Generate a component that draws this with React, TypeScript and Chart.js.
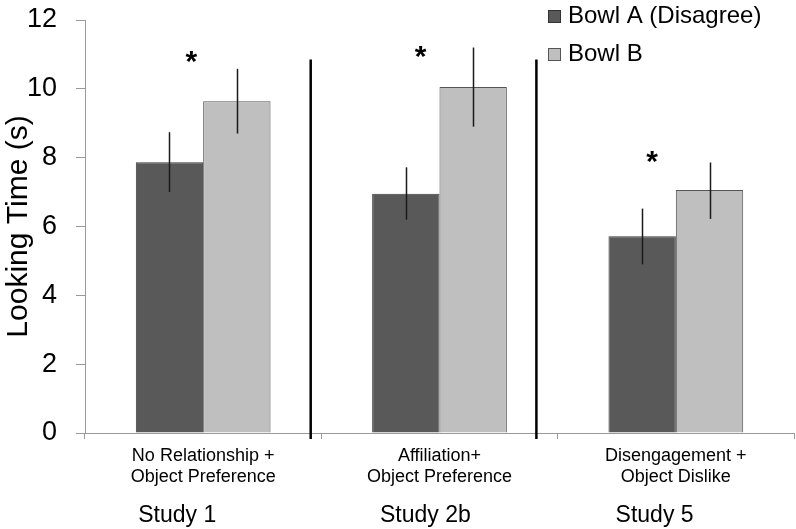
import React, { useEffect, useRef } from "react";
import { Chart, registerables } from "chart.js";

Chart.register(...registerables);

const categories = [
  ["No Relationship +", "Object Preference"],
  ["Affiliation+", "Object Preference"],
  ["Disengagement +", "Object Dislike"],
];
const studyLabels = ["Study 1", "Study 2b", "Study 5"];
const seriesNames = ["Bowl A (Disagree)", "Bowl B"];
const bowlA = [7.87, 6.95, 5.72];
const bowlB = [9.64, 10.05, 7.06];
const bowlAErrLow = [7.0, 6.2, 4.9];
const bowlAErrHigh = [8.74, 7.72, 6.52];
const bowlBErrLow = [8.7, 8.9, 6.22];
const bowlBErrHigh = [10.58, 11.2, 7.86];
const yTicks = [0, 2, 4, 6, 8, 10, 12];
const asteriskValues = [10.9, 11.05, 8.0];
const asteriskIndex = [-0.05, 0.92, 1.9];
const studyIndex = [-0.11, 0.94, 1.91];
const dividerIndex = [0.455, 1.41];
const dividerTop = 10.85;

const colorA = "#595959";
const colorB = "#bfbfbf";
const FONT = "'Liberation Sans', Arial, sans-serif";

export default function App() {
  const ref = useRef<HTMLCanvasElement | null>(null);

  useEffect(() => {
    document.body.style.margin = "0";
    const canvas = ref.current;
    if (!canvas) return;

    const overlay = {
      id: "overlay",
      afterDatasetsDraw(chart: any) {
        const ctx = chart.ctx;
        const xs = chart.scales.x;
        const ys = chart.scales.y;
        ctx.save();
        // error bars
        const lows = [bowlAErrLow, bowlBErrLow];
        const highs = [bowlAErrHigh, bowlBErrHigh];
        [0, 1].forEach((d) => {
          const meta = chart.getDatasetMeta(d);
          meta.data.forEach((bar: any, i: number) => {
            ctx.beginPath();
            ctx.strokeStyle = "#1a1a1a";
            ctx.lineWidth = 1.5;
            ctx.moveTo(Math.round(bar.x) + 0.5, ys.getPixelForValue(lows[d][i]));
            ctx.lineTo(Math.round(bar.x) + 0.5, ys.getPixelForValue(highs[d][i]));
            ctx.stroke();
          });
        });
        // dividers
        dividerIndex.forEach((v) => {
          const x = xs.getPixelForValue(v);
          ctx.beginPath();
          ctx.strokeStyle = "#000";
          ctx.lineWidth = 2.5;
          ctx.moveTo(x, ys.getPixelForValue(dividerTop));
          ctx.lineTo(x, chart.chartArea.bottom + 6);
          ctx.stroke();
        });
        // asterisks
        ctx.fillStyle = "#000";
        ctx.font = `bold 30px ${FONT}`;
        ctx.textAlign = "center";
        ctx.textBaseline = "middle";
        asteriskValues.forEach((v, i) => {
          ctx.fillText("*", xs.getPixelForValue(asteriskIndex[i]), ys.getPixelForValue(v) + 5);
        });
        // study labels
        ctx.font = `23px ${FONT}`;
        ctx.textBaseline = "alphabetic";
        studyLabels.forEach((s, i) => {
          ctx.fillText(s, xs.getPixelForValue(studyIndex[i]), 522);
        });
        // legend
        const legendColors = [colorA, colorB];
        const legendBorders = ["#333", "#555"];
        const rows = [10, 48];
        ctx.textAlign = "left";
        ctx.font = `24px ${FONT}`;
        seriesNames.forEach((name, i) => {
          ctx.fillStyle = legendColors[i];
          ctx.fillRect(548, rows[i], 13, 13);
          ctx.strokeStyle = legendBorders[i];
          ctx.lineWidth = 1;
          ctx.strokeRect(548.5, rows[i] + 0.5, 12, 12);
          ctx.fillStyle = "#000";
          ctx.fillText(name, 568, rows[i] + 13);
        });
        ctx.restore();
      },
    };

    const chart = new Chart(canvas, {
      type: "bar",
      data: {
        labels: categories,
        datasets: [
          {
            label: seriesNames[0],
            data: bowlA,
            backgroundColor: colorA,
            borderColor: "#3a3a3a",
            borderWidth: 1,
          },
          {
            label: seriesNames[1],
            data: bowlB,
            backgroundColor: colorB,
            borderColor: "#555",
            borderWidth: 1,
          },
        ],
      },
      options: {
        animation: false,
        responsive: false,
        maintainAspectRatio: false,
        layout: { padding: { top: 20, right: 2, left: 0, bottom: 0 } },
        datasets: { bar: { barPercentage: 1, categoryPercentage: 0.57 } },
        plugins: {
          legend: { display: false },
          tooltip: { enabled: false },
        },
        scales: {
          x: {
            grid: {
              display: true,
              drawOnChartArea: false,
              tickLength: 6,
              color: "#9a9a9a",
              offset: true,
            },
            border: { color: "#9a9a9a", width: 1 },
            ticks: {
              color: "#000",
              padding: 6,
              maxRotation: 0,
              autoSkip: false,
              font: { family: FONT, size: 18, lineHeight: 1.2 },
            },
            afterFit: (s: any) => {
              s.height = 96;
              s.paddingLeft = 0;
              s.paddingRight = 0;
            },
          },
          y: {
            min: 0,
            max: 12,
            afterBuildTicks: (s: any) => {
              s.ticks = yTicks.map((v) => ({ value: v }));
            },
            grid: {
              display: true,
              drawOnChartArea: false,
              tickLength: 9,
              color: "#9a9a9a",
            },
            border: { color: "#9a9a9a", width: 1 },
            ticks: {
              color: "#000",
              padding: 19,
              font: { family: FONT, size: 27 },
            },
            title: {
              display: true,
              text: "Looking Time (s)",
              color: "#000",
              padding: { top: 1, bottom: 1 },
              font: { family: FONT, size: 30 },
            },
            afterFit: (s: any) => {
              s.width = 85;
              s.paddingTop = 0;
              s.paddingBottom = 0;
            },
          },
        },
      },
      plugins: [overlay],
    });

    return () => chart.destroy();
  }, []);

  return (
    <div style={{ position: "relative", width: 796, height: 529 }}>
      <canvas ref={ref} width={796} height={529} style={{ display: "block", width: 796, height: 529 }} />
    </div>
  );
}
